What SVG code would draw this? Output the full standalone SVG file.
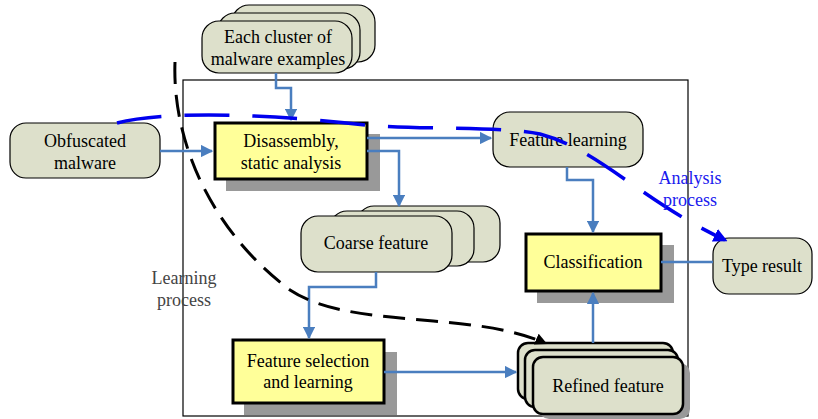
<svg xmlns="http://www.w3.org/2000/svg" width="818" height="419" viewBox="0 0 818 419">
<defs>
<style>
.n{fill:#dde0cb;stroke:#000;stroke-width:1.2}
.nb{fill:#dde0cb;stroke:#000;stroke-width:2.5}
.y{fill:#ffff99;stroke:#000;stroke-width:3}
.sh{fill:#999}
.t{font-family:"Liberation Serif","Times New Roman",serif;font-size:18px;fill:#000;text-anchor:middle}
.c{fill:none;stroke:#4a7ebf;stroke-width:2.5}
</style>
<marker id="ab" viewBox="0 0 10 10" refX="9" refY="5" markerWidth="5" markerHeight="5" orient="auto" markerUnits="strokeWidth"><path d="M0,0L10,5L0,10z" fill="#4a7ebf"/></marker>
<marker id="ak" viewBox="0 0 10 10" refX="8" refY="5" markerWidth="4" markerHeight="4" orient="auto" markerUnits="strokeWidth"><path d="M0,0L10,5L0,10z" fill="#000"/></marker>
<marker id="au" viewBox="0 0 10 10" refX="8" refY="5" markerWidth="4" markerHeight="4" orient="auto" markerUnits="strokeWidth"><path d="M0,0L10,5L0,10z" fill="#0000ee"/></marker>
</defs>
<rect width="818" height="419" fill="#fff"/>
<rect id="frame" x="183" y="80" width="505" height="336" fill="none" stroke="#000" stroke-width="1.2"/>

<g id="cluster">
<rect class="n" x="232" y="5" width="143" height="57" rx="17"/>
<rect class="n" x="218" y="13" width="142" height="56" rx="17"/>
<rect class="n" x="202" y="21" width="150" height="52" rx="17"/>
<text class="t" x="278" y="43">Each cluster of</text>
<text class="t" x="278" y="65">malware examples</text>
</g>

<g id="obfuscated">
<rect class="n" x="10" y="123" width="150" height="55" rx="16"/>
<text class="t" x="85" y="147">Obfuscated</text>
<text class="t" x="85" y="169">malware</text>
</g>

<g id="disassembly">
<rect class="sh" x="226" y="134" width="154" height="57"/>
<rect class="y" x="215" y="123" width="152" height="56"/>
<text class="t" x="291" y="147">Disassembly,</text>
<text class="t" x="291" y="169">static analysis</text>
</g>

<g id="featurelearning">
<rect class="n" x="493" y="112" width="150" height="55" rx="17"/>
<text class="t" x="568" y="146">Feature learning</text>
</g>

<g id="coarse">
<rect class="n" x="357" y="206" width="143" height="56" rx="17"/>
<rect class="n" x="330" y="211" width="144" height="55" rx="17"/>
<rect class="n" x="301" y="216" width="151" height="56" rx="17"/>
<text class="t" x="376" y="249">Coarse feature</text>
</g>

<g id="classification">
<rect class="sh" x="537" y="245" width="137" height="58"/>
<rect class="y" x="526" y="234" width="135" height="57"/>
<text class="t" x="593" y="268">Classification</text>
</g>

<g id="typeresult">
<rect class="n" x="713" y="238" width="99" height="56" rx="16"/>
<text class="t" x="762" y="272">Type result</text>
</g>

<g id="featureselection">
<rect class="sh" x="244" y="352" width="153" height="63"/>
<rect class="y" x="233" y="340" width="151" height="63"/>
<text class="t" x="308" y="367">Feature selection</text>
<text class="t" x="308" y="388">and learning</text>
</g>

<g id="refined">
<rect class="nb" x="518" y="343" width="155" height="56" rx="10"/>
<rect class="nb" x="525" y="350" width="153" height="57" rx="10"/>
<rect class="sh" x="539" y="363" width="151" height="56" rx="10"/>
<rect class="nb" x="533" y="357" width="150" height="57" rx="10"/>
<text class="t" x="608" y="392">Refined feature</text>
</g>

<g id="connectors">
<path class="c" d="M276,73V88H291V120" marker-end="url(#ab)"/>
<path class="c" d="M160,151H212" marker-end="url(#ab)"/>
<path class="c" d="M367,138H491" marker-end="url(#ab)"/>
<path class="c" d="M367,151H399V206" marker-end="url(#ab)"/>
<path class="c" d="M567,167V180H593V232" marker-end="url(#ab)"/>
<path class="c" d="M376,272V287H309V338" marker-end="url(#ab)"/>
<path class="c" d="M384,372H516" marker-end="url(#ab)"/>
<path class="c" d="M593,343V293" marker-end="url(#ab)"/>
<path class="c" d="M661,262H713"/>
<path d="M175,62C172,140 210,230 290,290C350,330 470,310 545,343" fill="none" stroke="#000" stroke-width="3" stroke-dasharray="22,11" marker-end="url(#ak)"/>
<path d="M117,123C160,112 250,112 366,125C430,130 500,126 540,134C600,150 640,200 725,240" fill="none" stroke="#0000ee" stroke-width="3.5" stroke-dasharray="45,23" marker-end="url(#au)"/>
</g>

<g id="labels">
<text class="t" x="690" y="184" style="fill:#1a1aee">Analysis</text>
<text class="t" x="690" y="206" style="fill:#1a1aee">process</text>
<text class="t" x="184" y="284" style="fill:#444">Learning</text>
<text class="t" x="184" y="306" style="fill:#444">process</text>
</g>
</svg>
